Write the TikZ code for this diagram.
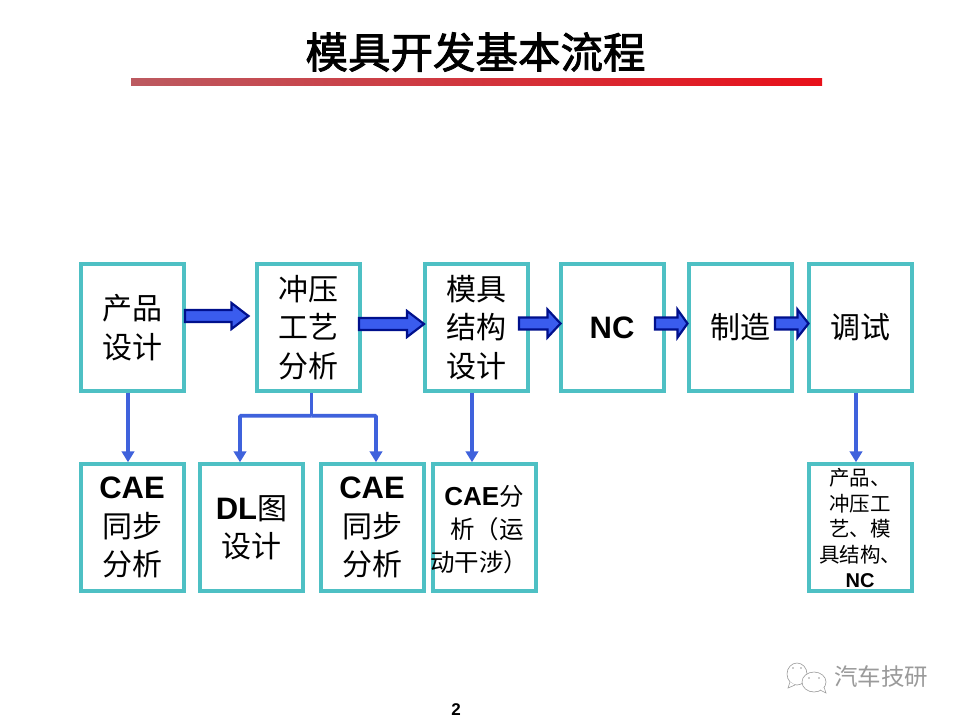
\documentclass[tikz,border=0pt]{standalone}
\usepackage{fontspec}
\setmainfont{Liberation Sans}
\newfontfamily\lat{Liberation Sans}
\newfontfamily\cjk{Noto Sans CJK SC}
\newfontfamily\cjkt[FakeBold=2]{Noto Sans CJK SC}
\usetikzlibrary{calc,arrows.meta}
\definecolor{boxc}{HTML}{4EC0C4}
\definecolor{linec}{HTML}{3F62DC}
\definecolor{arrfill}{HTML}{3A5CEE}
\definecolor{arrdraw}{HTML}{00108C}
\definecolor{rulel}{HTML}{BC5A60}
\definecolor{ruler}{HTML}{E8101A}
\definecolor{wmc}{HTML}{9A9A9A}
\newcommand{\latn}[1]{{\lat\bfseries\fontsize{31}{36}\selectfont #1}}
% #1 start, #2 tip, #3 head half height, #4 head length
\newcommand{\blockarrow}[4]{%
  \draw[blockar] ($(#1)+(0,6)$) -- ($(#2)+(-#4,6)$) -- ($(#2)+(-#4,#3)$) -- (#2) -- ($(#2)+(-#4,-#3)$) -- ($(#2)+(-#4,-6)$) -- ($(#1)+(0,-6)$) -- cycle;}
\tikzset{
  boxn/.style={draw=boxc,line width=4pt,fill=white,minimum width=103pt,minimum height=126.5pt,inner sep=0pt,align=center,font=\cjk\fontsize{30}{38.3}\selectfont},
  txt/.style={inner sep=0pt,align=center},
  blockar/.style={draw=arrdraw,fill=arrfill,line width=2.2pt,line join=miter},
  thinar/.style={draw=linec,line width=3.6pt,rounded corners=1pt,-{Triangle[length=11pt,width=12.5pt]}},
  branch/.style={draw=linec,line width=3.6pt},
  wmline/.style={draw=wmc,line width=.6pt,fill=white},
}
\begin{document}
\begin{tikzpicture}[x=1pt,y=-1pt]
\useasboundingbox (0,0) rectangle (960,720);
\fill[white] (0,0) rectangle (960,720);
\node[font=\cjkt\fontsize{42.5}{48}\selectfont,inner sep=0pt] (title) at (475.5,52) {模具开发基本流程};
\path[left color=rulel,right color=ruler] (131,78) rectangle (822,85);
% boxes
\node[boxn] (b1) at (132,327.5) {产品\\设计};
\node[boxn] (b2) at (308,327.5) {冲压\\工艺\\分析};
\node[boxn] (b3) at (476,327.5) {模具\\结构\\设计};
\node[boxn] (b4) at (612,327.5) {\latn{NC}};
\node[boxn] (b5) at (740,327.5) {制造};
\node[boxn] (b6) at (860.5,327.5) {调试};
\node[boxn] (c1) at (132,527.5) {\latn{CAE}\\同步\\分析};
\node[boxn] (c2) at (251.5,527.5) {\latn{DL}图\\设计};
\node[boxn] (c3) at (372,527.5) {\latn{CAE}\\同步\\分析};
\node[boxn] (c4) at (484,527.5) {};
\node[txt,font=\cjk\fontsize{24.5}{33}\selectfont] (c4t) at (484,529.5) {{\lat\bfseries\fontsize{26}{33}\selectfont CAE}分\\\hspace*{6pt}析（运\\\hspace*{-10pt}动干涉）};
\node[boxn] (c5) at (860.5,527.5) {};
\node[txt,font=\cjk\fontsize{20.5}{25.5}\selectfont] (c5t) at (860,528) {产品、\\冲压工\\艺、模\\具结构、\\{\lat\bfseries\fontsize{20}{25.5}\selectfont NC}};
% block arrows
\coordinate (a1s) at (185,316); \coordinate (a1e) at (248.5,316);
\coordinate (a2s) at (359,324); \coordinate (a2e) at (424,324);
\coordinate (a3s) at (519,323.5); \coordinate (a3e) at (560.5,323.5);
\coordinate (a4s) at (655,323.5); \coordinate (a4e) at (687.5,323.5);
\coordinate (a5s) at (775,323.5); \coordinate (a5e) at (808.5,323.5);
\blockarrow{a1s}{a1e}{13}{17}
\blockarrow{a2s}{a2e}{13}{17}
\blockarrow{a3s}{a3e}{14}{13}
\blockarrow{a4s}{a4e}{14}{10}
\blockarrow{a5s}{a5e}{14}{11}
% thin connectors
\draw[thinar] ($(b1.south)+(-4,0)$) -- ($(c1.north)+(-4,0)$);
\draw[thinar] ($(b3.south)+(-4,0)$) -- ($(c4.north)+(-12,0)$);
\draw[thinar] ($(b6.south)+(-4.5,0)$) -- ($(c5.north)+(-4.5,0)$);
\coordinate (j) at ($(b2.south)+(3.5,23)$);
\draw[branch] ($(b2.south)+(3.5,0)$) -- (j);
\draw[thinar] (j) -| ($(c2.north)+(-11.5,0)$);
\draw[thinar] (j) -| ($(c3.north)+(4,0)$);
\node[font=\lat\bfseries\fontsize{17}{20}\selectfont,inner sep=0pt] (pg) at (456,710) {2};
% watermark
\node[font=\cjk\fontsize{23.5}{26}\selectfont,text=wmc,inner sep=0pt] (wm) at (881,677) {汽车技研};
\draw[wmline] (797,674) ellipse (10pt and 11pt);
\draw[wmline] (790,682) -- (788,688) -- (795,685);
\draw[wmline] (814,682) ellipse (12pt and 10pt);
\draw[wmline] (820,690) -- (826,693) -- (824,687);
\fill[wmc] (793,668) circle (.9pt) (801,668) circle (.9pt) (809,678) circle (.9pt) (819,678) circle (.9pt);
\end{tikzpicture}
\end{document}
